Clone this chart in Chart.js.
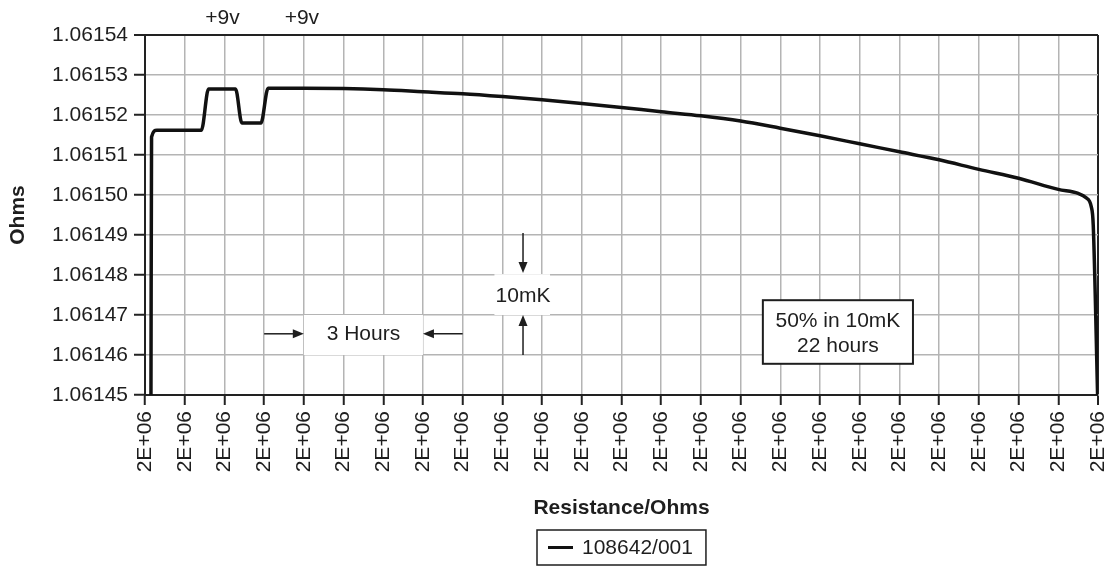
<!DOCTYPE html>
<html>
<head>
<meta charset="utf-8">
<script src="https://cdn.jsdelivr.net/npm/chart.js@4.4.1/dist/chart.umd.min.js"></script>
<style>
  html, body { margin: 0; padding: 0; background: #fff; }
  #wrap { width: 1105px; height: 571px; }
</style>
</head>
<body>
<div id="wrap"><canvas id="chartOhms"></canvas></div>
<script>
// x positions are in tick units (0..24), every tick reads "2E+06"
const xTickLabels = Array(25).fill("2E+06");
const seriesLabel = "108642/001";
const curveX = [0.15, 0.165, 0.3, 1.42, 1.6, 2.28, 2.44, 2.92, 3.1, 4, 5, 6, 7, 8, 9, 10, 11, 12, 13, 14, 15, 16, 17, 18, 19, 20, 21, 22, 23, 23.5, 23.7, 23.83, 23.88, 23.99];
const curveOhms = [1.06145, 1.0615145, 1.0615162, 1.0615162, 1.0615265, 1.0615265, 1.061518, 1.061518, 1.0615267, 1.0615267, 1.0615266, 1.0615263, 1.0615258, 1.0615253, 1.0615246, 1.0615238, 1.0615229, 1.0615219, 1.0615208, 1.0615198, 1.0615185, 1.0615167, 1.0615148, 1.0615128, 1.0615108, 1.0615088, 1.0615064, 1.0615042, 1.0615014, 1.0615004, 1.0614993, 1.0614971, 1.0614925, 1.06145];

const yMin = 1.06145;
const yMax = 1.06154;
const yStep = 0.00001;

// notes drawn on top of the plot, in data units
const arrowNotes = [
  { from: [3, 1.0614653], to: [4, 1.0614653] },
  { from: [8, 1.0614653], to: [7, 1.0614653] },
  { from: [9.52, 1.0614905], to: [9.52, 1.0614805] },
  { from: [9.52, 1.06146], to: [9.52, 1.06147] },
];
const textNotes = [
  { text: "3 Hours", x: 5.5, y: 1.0614653, clear: [4, 7, 1.06147, 1.06146] },
  { text: "10mK", x: 9.52, y: 1.0614748, clear: [8.8, 10.2, 1.0614802, 1.06147] },
  { text: "+9v", x: 1.95, y: 1.0615443 },
  { text: "+9v", x: 3.95, y: 1.0615443 },
];
const boxNote = { lines: ["50% in 10mK", "22 hours"], x1: 15.56, x2: 19.34, y1: 1.0614737, y2: 1.0614578 };

const fontFamily = "'Liberation Sans', Arial, sans-serif";
const textColor = "#1e1e1e";

const notesPlugin = {
  id: "notes",
  afterDatasetsDraw(chart) {
    const { ctx, scales } = chart;
    const px = (v) => scales.x.getPixelForValue(v);
    const py = (v) => scales.y.getPixelForValue(v);
    ctx.save();
    ctx.fillStyle = "#fff";
    textNotes.forEach((n) => {
      if (!n.clear) return;
      const [a, b, c, d] = n.clear;
      ctx.fillRect(px(a), py(c), px(b) - px(a), py(d) - py(c));
    });
    ctx.strokeStyle = textColor;
    ctx.fillStyle = textColor;
    ctx.lineWidth = 1.5;
    arrowNotes.forEach((a) => {
      const x1 = px(a.from[0]), y1 = py(a.from[1]);
      const x2 = px(a.to[0]), y2 = py(a.to[1]);
      const ang = Math.atan2(y2 - y1, x2 - x1);
      ctx.beginPath();
      ctx.moveTo(x1, y1);
      ctx.lineTo(x2 - 8 * Math.cos(ang), y2 - 8 * Math.sin(ang));
      ctx.stroke();
      ctx.beginPath();
      ctx.moveTo(x2, y2);
      ctx.lineTo(x2 - 11 * Math.cos(ang) + 4.5 * Math.sin(ang), y2 - 11 * Math.sin(ang) - 4.5 * Math.cos(ang));
      ctx.lineTo(x2 - 11 * Math.cos(ang) - 4.5 * Math.sin(ang), y2 - 11 * Math.sin(ang) + 4.5 * Math.cos(ang));
      ctx.closePath();
      ctx.fill();
    });
    ctx.font = "21px " + fontFamily;
    ctx.textAlign = "center";
    ctx.textBaseline = "middle";
    textNotes.forEach((n) => ctx.fillText(n.text, px(n.x), py(n.y)));

    // framed note
    const bx = px(boxNote.x1), by = py(boxNote.y1);
    const bw = px(boxNote.x2) - bx, bh = py(boxNote.y2) - by;
    ctx.fillStyle = "#fff";
    ctx.fillRect(bx, by, bw, bh);
    ctx.lineWidth = 2;
    ctx.strokeRect(bx, by, bw, bh);
    ctx.fillStyle = textColor;
    boxNote.lines.forEach((t, i) => ctx.fillText(t, bx + bw / 2, by + 21 + i * 25.5));
    ctx.restore();
  },
  afterDraw(chart) {
    // framed legend centred under the plot
    const { ctx, chartArea } = chart;
    const ds = chart.data.datasets[0];
    ctx.save();
    ctx.font = "21px " + fontFamily;
    const tw = ctx.measureText(ds.label).width;
    const w = 12 + 25 + 9 + tw + 12;
    const cx = (chartArea.left + chartArea.right) / 2;
    const left = Math.round(cx - w / 2);
    const top = 530, h = 35;
    ctx.strokeStyle = textColor;
    ctx.lineWidth = 1.5;
    ctx.strokeRect(left, top, w, h);
    ctx.strokeStyle = ds.borderColor;
    ctx.lineWidth = 3;
    ctx.beginPath();
    ctx.moveTo(left + 11, top + h / 2);
    ctx.lineTo(left + 36, top + h / 2);
    ctx.stroke();
    ctx.fillStyle = textColor;
    ctx.textBaseline = "middle";
    ctx.fillText(ds.label, left + 45, top + h / 2 + 1);
    ctx.restore();
  },
};

const points = curveX.map((x, i) => ({ x: x, y: curveOhms[i] }));

new Chart(document.getElementById("chartOhms"), {
  type: "line",
  data: {
    datasets: [
      {
        label: seriesLabel,
        data: points,
        borderColor: "#111",
        borderWidth: 3.5,
        pointRadius: 0,
        cubicInterpolationMode: "monotone",
        borderJoinStyle: "round",
        fill: false,
      },
    ],
  },
  options: {
    responsive: true,
    maintainAspectRatio: false,
    animation: false,
    layout: { padding: { top: 35, right: 7, left: 0, bottom: 46 } },
    plugins: {
      legend: { display: false },
      tooltip: { enabled: false },
    },
    scales: {
      x: {
        type: "linear",
        min: 0,
        max: 24,
        afterFit(scale) {
          scale.height = 130;
          scale.paddingLeft = 0;
          scale.paddingRight = 0;
        },
        ticks: {
          stepSize: 1,
          autoSkip: false,
          maxRotation: 90,
          minRotation: 90,
          padding: 6,
          color: textColor,
          font: { family: fontFamily, size: 21 },
          callback: (v, i) => xTickLabels[i],
        },
        grid: {
          color: (c) => (c.index === 24 ? "#222" : "#b4b4b4"),
          lineWidth: (c) => (c.index === 24 ? 2 : 1.5),
          tickColor: "#222",
          tickWidth: 2,
          tickLength: 10,
        },
        border: { color: "#222", width: 2 },
        title: {
          display: true,
          text: "Resistance/Ohms",
          color: textColor,
          font: { family: fontFamily, size: 21, weight: "bold" },
          padding: { top: 0, bottom: 4 },
        },
      },
      y: {
        min: yMin,
        max: yMax,
        afterFit(scale) {
          scale.width = 145;
          scale.paddingTop = 0;
          scale.paddingBottom = 0;
        },
        ticks: {
          stepSize: yStep,
          padding: 6,
          color: textColor,
          font: { family: fontFamily, size: 21 },
          callback: (v) => v.toFixed(5),
        },
        grid: {
          color: (c) => (c.index === 9 ? "#222" : "#b4b4b4"),
          lineWidth: (c) => (c.index === 9 ? 2 : 1.5),
          tickColor: "#222",
          tickWidth: 2,
          tickLength: 11,
        },
        border: { color: "#222", width: 2 },
        title: {
          display: true,
          text: "Ohms",
          color: textColor,
          font: { family: fontFamily, size: 21, weight: "bold" },
          padding: { top: 6, bottom: 0 },
        },
      },
    },
  },
  plugins: [notesPlugin],
});
</script>
</body>
</html>
